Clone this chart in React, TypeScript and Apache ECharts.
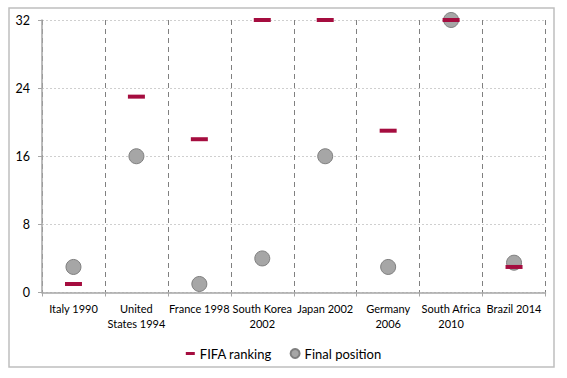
import React, { useEffect, useRef } from "react";
import * as echarts from "echarts";

const categories = [
  "Italy 1990",
  "United\nStates 1994",
  "France 1998",
  "South Korea\n2002",
  "Japan 2002",
  "Germany\n2006",
  "South Africa\n2010",
  "Brazil 2014",
];
const fifaRanking = [1, 23, 18, 32, 32, 19, 32, 3];
const finalPosition = [3, 16, 1, 4, 16, 3, 32, 3.5];
const yMin = 0;
const yMax = 32;
const yInterval = 8;

const FONT = "Lato, 'Liberation Sans', sans-serif";

export default function App() {
  const ref = useRef<HTMLDivElement>(null);
  useEffect(() => {
    if (!ref.current) return;
    const chart = echarts.init(ref.current, undefined, { renderer: "svg" });
    chart.setOption({
      animation: false,
      backgroundColor: "#ffffff",
      textStyle: { fontFamily: FONT },
      graphic: [
        {
          type: "rect",
          shape: { x: 9, y: 8, width: 545, height: 359 },
          style: { fill: "none", stroke: "#bfbfbf", lineWidth: 1.5 },
          silent: true,
          z: -1,
        },
      ],
      grid: { left: 42, right: 21.5, top: 20, bottom: 85.5, containLabel: false },
      legend: {
        left: "center",
        top: 342,
        itemWidth: 9,
        itemHeight: 9,
        itemGap: 18,
        textStyle: { fontFamily: FONT, fontSize: 13, color: "#000" },
        data: [
          { name: "FIFA ranking", icon: "path://M0,0 L9,0 L9,3 L0,3 Z" },
          { name: "Final position", icon: "circle" },
        ],
      },
      xAxis: {
        type: "category",
        data: categories,
        boundaryGap: true,
        axisLine: { show: true, lineStyle: { color: "#a6a6a6", width: 1.5 } },
        axisTick: { show: true, length: 4, interval: 0, lineStyle: { color: "#a6a6a6" } },
        axisLabel: {
          interval: 0,
          fontFamily: FONT,
          fontSize: 11,
          lineHeight: 15,
          color: "#000",
          margin: 8,
        },
        splitLine: {
          show: true,
          interval: 0,
          lineStyle: { color: "#808080", type: [5, 4], width: 1 },
        },
      },
      yAxis: {
        type: "value",
        min: yMin,
        max: yMax,
        interval: yInterval,
        axisLine: { show: true, lineStyle: { color: "#a6a6a6", width: 1.5 } },
        axisTick: { show: true, length: 4, lineStyle: { color: "#a6a6a6" } },
        axisLabel: { fontFamily: FONT, fontSize: 12.5, color: "#000", margin: 12 },
        splitLine: {
          show: true,
          lineStyle: { color: "#cfcfcf", type: [2, 2], width: 1 },
        },
      },
      series: [
        {
          name: "FIFA ranking",
          type: "scatter",
          data: fifaRanking,
          symbol: "rect",
          symbolSize: [17, 4],
          itemStyle: { color: "#A50D3F", opacity: 1 },
          z: 4,
          clip: false,
        },
        {
          name: "Final position",
          type: "scatter",
          data: finalPosition,
          symbol: "circle",
          symbolSize: 15,
          itemStyle: {
            color: "#a6a6a6",
            borderColor: "#7f7f7f",
            borderWidth: 1,
            opacity: 1,
          },
          z: 3,
          clip: false,
        },
      ],
    });
    return () => chart.dispose();
  }, []);
  return (
    <div
      ref={ref}
      style={{ position: "fixed", left: 0, top: 0, width: 567, height: 378 }}
    />
  );
}
